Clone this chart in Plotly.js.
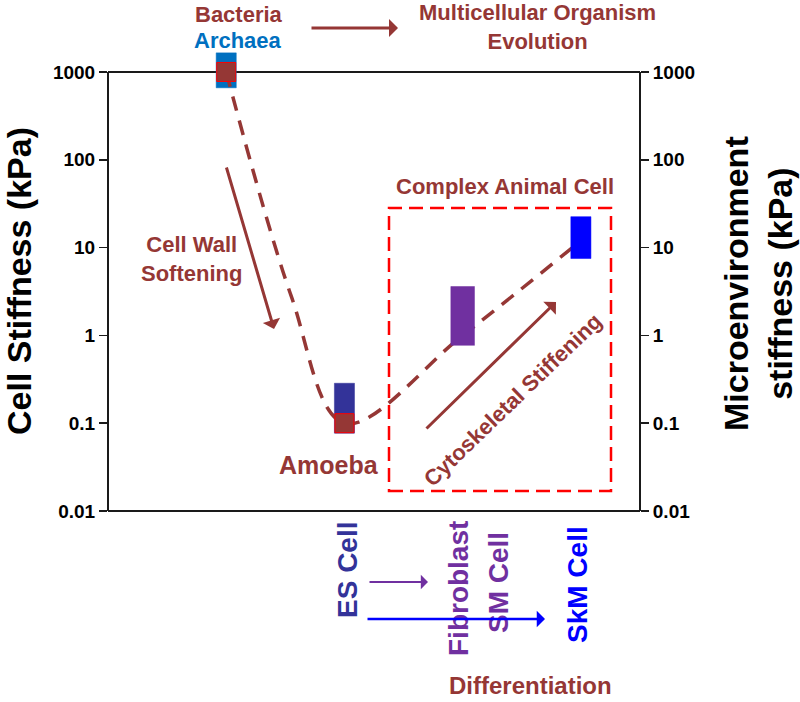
<!DOCTYPE html>
<html><head><meta charset="utf-8">
<script src="https://cdn.plot.ly/plotly-3.0.1.min.js"></script>
<style>html,body{margin:0;padding:0;background:#fff}</style>
</head><body>
<div id="chart" style="width:800px;height:702px"></div>
<script>
// ---------------- data ----------------
const cellGroups = ['Bacteria / Archaea', 'Amoeba / ES Cell', 'Fibroblast / SM Cell', 'SkM Cell'];
const groupX = [1, 2, 3, 4];
// microenvironment stiffness ranges (kPa)
const envLow  = [660, 0.077, 0.77, 7.5];
const envHigh = [1650, 0.285, 3.6, 22.5];
// cell stiffness (kPa)
const cellX = [1, 2];
const cellStiffness = [1000, 0.1];
// dashed trend through the stiffness evolution
const trendX = [1, 1.55, 2, 3, 4];
const trendY = [1000, 2.8, 0.1, 1.0, 12];
// axis ticks
const tickVals = [0.01, 0.1, 1, 10, 100, 1000];
const tickText = ['0.01', '0.1', '1', '10', '100', '1000'];

// ---------------- styles ----------------
const FONT = 'Liberation Sans, Arial, sans-serif';
const DARKRED = '#953735';
const barColors = ['#0070C0', '#333399', '#7030A0', '#0000FF'];
const barHalfW = [0.085, 0.085, 0.1, 0.085];
const Y_MIN = -2, Y_MAX = 3.25;

function barTrace(i, yaxis) {
  const c = groupX[i], w = barHalfW[i];
  return {
    type: 'scatter', mode: 'lines', name: cellGroups[i],
    x: [c - w, c + w, c + w, c - w, c - w],
    y: [envLow[i], envLow[i], envHigh[i], envHigh[i], envLow[i]],
    fill: 'toself', fillcolor: barColors[i],
    line: {color: barColors[i], width: 0.5},
    yaxis: yaxis, hoverinfo: 'skip', showlegend: false
  };
}

const traces = [
  barTrace(0, 'y'),
  barTrace(1, 'y'),
  {
    type: 'scatter', mode: 'lines', x: trendX, y: trendY,
    line: {color: DARKRED, width: 3.5, dash: '15px,10px', shape: 'spline', smoothing: 1},
    hoverinfo: 'skip', showlegend: false
  },
  {
    type: 'scatter', mode: 'markers', x: cellX, y: cellStiffness,
    marker: {symbol: 'square', size: 19, color: DARKRED, line: {color: '#FF0000', width: 1}},
    hoverinfo: 'skip', showlegend: false
  },
  barTrace(2, 'y2'),
  barTrace(3, 'y2')
];

// pixel -> paper helpers (plot area 108..640 x 50..511)
const PX0 = 108, PW = 532, PY1 = 511, PH = 461;
const P = (px, py) => ({x: (px - PX0) / PW, y: (PY1 - py) / PH, xref: 'paper', yref: 'paper'});
const yPaper = v => (Math.log10(v) - Y_MIN) / (Y_MAX - Y_MIN);

function label(text, px, py, size, color, angle) {
  return Object.assign(P(px, py), {
    text: text, showarrow: false, xanchor: 'center', yanchor: 'middle',
    textangle: angle || 0,
    font: {family: FONT, size: size, color: color, weight: 'bold'}
  });
}
function arrow(tipX, tipY, tailX, tailY, color, width, size) {
  return Object.assign(P(tipX, tipY), {
    text: '', showarrow: true, ax: tailX - tipX, ay: tailY - tipY,
    arrowhead: 1, arrowsize: size || 1, arrowwidth: width, arrowcolor: color, standoff: 0
  });
}

const annotations = [
  label('Bacteria', 239, 14, 22, DARKRED),
  label('Archaea', 238, 41, 22, '#0070C0'),
  label('Multicellular Organism<br>Evolution', 537, 27, 22, DARKRED),
  label('Cell Wall<br>Softening', 191, 259, 22, DARKRED),
  label('Amoeba', 329, 465, 25, DARKRED),
  label('Complex Animal Cell', 505, 186, 22, DARKRED),
  label('Cytoskeletal Stiffening', 512, 400, 22, DARKRED, -44),
  label('ES Cell', 347, 570, 28, '#333399', -90),
  label('Fibroblast', 458, 589, 28, '#7030A0', -90),
  label('SM Cell', 498, 583, 28, '#7030A0', -90),
  label('SkM Cell', 577, 585, 28, '#0000FF', -90),
  label('Differentiation', 530, 685, 24, DARKRED),
  label('Cell Stiffness (kPa)', 19, 281, 34, '#000000', -90),
  label('Microenvironment<br>stiffness (kPa)', 758, 284, 34, '#000000', -90),
  arrow(398, 28, 310, 28, DARKRED, 3),
  arrow(274, 329, 226, 166, DARKRED, 3),
  arrow(556, 302, 425, 430, DARKRED, 3),
  arrow(428, 582, 368, 582, '#7030A0', 2, 1.2),
  arrow(545, 619, 366, 619, '#0000FF', 2.5, 1.1)
];

const yTop = yPaper(1000);
const frameLine = {color: '#1a1a1a', width: 2};
const boxP0 = P(389, 491), boxP1 = P(611, 208);
const shapes = [
  {type: 'line', xref: 'paper', yref: 'paper', x0: 0, x1: 1, y0: yTop, y1: yTop, line: frameLine, layer: 'below'},
  {type: 'line', xref: 'paper', yref: 'paper', x0: 0, x1: 1, y0: 0, y1: 0, line: frameLine, layer: 'below'},
  {type: 'line', xref: 'paper', yref: 'paper', x0: 0, x1: 0, y0: 0, y1: yTop, line: frameLine, layer: 'below'},
  {type: 'line', xref: 'paper', yref: 'paper', x0: 1, x1: 1, y0: 0, y1: yTop, line: frameLine, layer: 'below'},
  {type: 'rect', xref: 'paper', yref: 'paper', x0: boxP0.x, x1: boxP1.x, y0: boxP0.y, y1: boxP1.y,
   line: {color: '#FF0000', width: 2.5, dash: '14px,7px'}, fillcolor: 'rgba(0,0,0,0)'}
];

const yAxisBase = {
  type: 'log', range: [Y_MIN, Y_MAX], tickvals: tickVals, ticktext: tickText,
  ticks: 'outside', ticklen: 8, tickwidth: 1.5, tickcolor: '#1a1a1a',
  showline: false, showgrid: false, zeroline: false, fixedrange: true,
  tickfont: {family: FONT, size: 19, color: '#000', weight: 'bold'}
};

const layout = {
  width: 800, height: 702,
  margin: {l: 108, r: 160, t: 50, b: 191, pad: 0},
  paper_bgcolor: '#ffffff', plot_bgcolor: 'rgba(0,0,0,0)',
  showlegend: false,
  font: {family: FONT, weight: 'bold'},
  xaxis: {range: [0, 4.5], showticklabels: false, ticks: '', showgrid: false, zeroline: false, showline: false, fixedrange: true},
  yaxis: Object.assign({}, yAxisBase, {side: 'left'}),
  yaxis2: Object.assign({}, yAxisBase, {side: 'right', overlaying: 'y', anchor: 'x'}),
  annotations: annotations,
  shapes: shapes
};

Plotly.newPlot('chart', traces, layout, {staticPlot: true, displayModeBar: false});
</script>
</body></html>
